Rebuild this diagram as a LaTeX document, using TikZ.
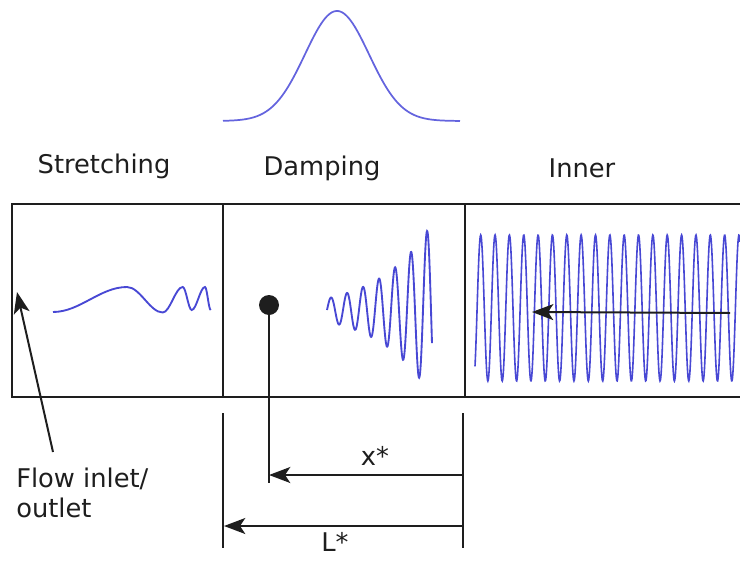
\documentclass[tikz,border=0pt]{standalone}
\usepackage{fontspec}
\setmainfont{DejaVu Sans}
\usetikzlibrary{arrows.meta}
\definecolor{wave}{RGB}{72,72,212}
\definecolor{gauss}{RGB}{100,100,222}
\definecolor{ink}{RGB}{30,30,30}
\begin{document}
\begin{tikzpicture}[x=0.75pt,y=-0.75pt,
  frame/.style={draw=ink,line width=1.6pt},
  wavepath/.style={draw=wave,line width=1.4pt},
  dim/.style={draw=ink,line width=1.5pt},
  arr/.style={draw=ink,line width=1.5pt,-{Stealth[length=16pt,width=12pt,inset=4pt]}},
  lbl/.style={text=ink,font=\fontsize{19.3}{22.5}\selectfont,inner sep=0pt},
]
\useasboundingbox (0,0) rectangle (740,561);

% frame
\draw[frame] (740,204) -- (12,204) -- (12,397) -- (740,397);
\draw[frame] (223,204) -- (223,397);
\draw[frame] (465,204) -- (465,397);

% section labels
\node[lbl,anchor=base] (lstretch) at (104,173) {Stretching};
\node[lbl,anchor=base] (ldamp) at (322,175) {Damping};
\node[lbl,anchor=base] (linner) at (582,177) {Inner};

% gaussian
\draw[draw=gauss,line width=1.3pt] plot[domain=223:460,samples=160]
  (\x,{121-110*exp(-((\x-337)/45.25)*((\x-337)/45.25))});

% stretching wave (half-waves between extrema)
\draw[wavepath] (53,312)
  .. controls (80,312) and (100,287) .. (127,287)
  .. controls (140,287) and (150,312.5) .. (162.7,312.5)
  .. controls (170,312.5) and (175.5,287) .. (182.7,287)
  .. controls (186,287) and (188.4,310) .. (191.7,310)
  .. controls (196.5,310) and (200.2,287) .. (205,287)
  .. controls (207,287) and (208.7,310) .. (210.7,310);

% damping wave
\draw[wavepath] plot[domain=327:432,samples=320]
  (\x,{310-12.5*exp(0.0192*(\x-331))*cos(22.5*(\x-331))});

% inner wave
\draw[wavepath,line width=1.2pt] plot[domain=475:740,samples=700]
  (\x,{308-73*cos(25.087*(\x-480.7))});

% inner arrow
\coordinate (itail) at (730,313);
\coordinate (itip) at (532,312);
\draw[arr] (itail) -- (itip);

% flow inlet
\node[lbl,anchor=base west,align=left] (flow) at (16,517) {Flow inlet/\\outlet};
\coordinate (ftail) at (53,452);
\coordinate (ftip) at (17,292);
\draw[arr] (ftail) -- (ftip);

% probe dot
\node[circle,fill=ink,inner sep=0pt,minimum size=15pt] (dot) at (269,305) {};
\coordinate (foot) at (269,483);
\draw[draw=ink,line width=1.1pt] (dot.center) -- (foot);

% dimension lines
\coordinate (la) at (223,413); \coordinate (lb) at (223,548);
\coordinate (ra) at (463,413); \coordinate (rb) at (463,548);
\draw[dim] (la) -- (lb);
\draw[dim] (ra) -- (rb);
\coordinate (xs) at (463,475);
\coordinate (xe) at (269,475);
\draw[arr] (xs) -- (xe);
\coordinate (ls) at (463,526);
\coordinate (le) at (224,526);
\draw[arr] (ls) -- (le);
\node[lbl,anchor=base] (xlab) at (375,465) {x*};
\node[lbl,anchor=base] (llab) at (335,551) {L*};
\end{tikzpicture}
\end{document}
